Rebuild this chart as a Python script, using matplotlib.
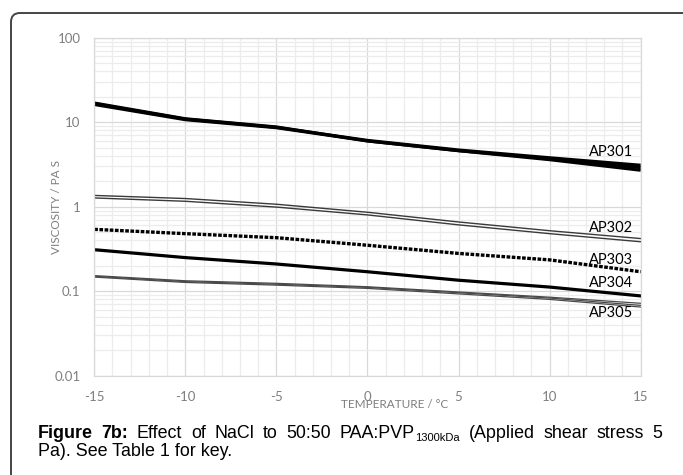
"""Figure 7b: viscosity vs temperature, NaCl series in 50:50 PAA:PVP."""
import numpy as np
import matplotlib
matplotlib.use('Agg')
import matplotlib.pyplot as plt
from matplotlib.patches import FancyBboxPatch
from matplotlib.transforms import IdentityTransform

plt.rcParams['font.family'] = ['Lato', 'DejaVu Sans']
plt.rcParams['axes.unicode_minus'] = False

# temperature points (degC)
temp = [-15, -10, -5, 0, 5, 10, 15]

# AP301: three replicates
ap301_a = [16.6, 10.9, 8.7, 6.1, 4.7, 3.8, 3.1]
ap301_b = [16.2, 10.7, 8.6, 6.0, 4.6, 3.7, 2.9]
ap301_c = [16.9, 11.0, 8.8, 6.0, 4.6, 3.6, 2.7]
# AP302: two replicates
ap302_a = [1.36, 1.25, 1.07, 0.86, 0.66, 0.52, 0.42]
ap302_b = [1.27, 1.16, 0.99, 0.80, 0.61, 0.48, 0.385]
# AP303
ap303 = [0.54, 0.48, 0.43, 0.35, 0.28, 0.235, 0.17]
# AP304
ap304 = [0.31, 0.25, 0.21, 0.17, 0.135, 0.112, 0.088]
# AP305: three replicates
ap305_a = [0.153, 0.133, 0.124, 0.113, 0.098, 0.085, 0.072]
ap305_b = [0.150, 0.130, 0.121, 0.111, 0.096, 0.083, 0.068]
ap305_c = [0.147, 0.127, 0.118, 0.108, 0.093, 0.080, 0.065]

series_names = ['AP301', 'AP302', 'AP303', 'AP304', 'AP305']
label_y = [4.4, 0.56, 0.234, 0.125, 0.0552]

xticks = [-15, -10, -5, 0, 5, 10, 15]
xticklabels = ['-15', '-10', '-5', '0', '5', '10', '15']
yticks = [0.01, 0.1, 1, 10, 100]
yticklabels = ['0.01', '0.1', '1', '10', '100']

fig = plt.figure(figsize=(6.83, 4.75), dpi=100)
ax = fig.add_axes([0.138, 0.209, 0.800, 0.7116])

# outer rounded frame (extends past right/bottom edges)
frame = FancyBboxPatch((11, -30), 720, 492, boxstyle='round,pad=0,rounding_size=9',
                       transform=IdentityTransform(), fill=False,
                       edgecolor='#444444', linewidth=1.4, zorder=0)
fig.patches.append(frame)

ax.set_yscale('log')
ax.set_xlim(-15, 15)
ax.set_ylim(0.01, 100)
ax.set_xticks(xticks)
ax.set_xticklabels(xticklabels)
ax.set_xticks(np.arange(-15, 16, 1), minor=True)
ax.set_yticks(yticks)
ax.set_yticklabels(yticklabels)
ax.set_yticks([m * d for d in [0.01, 0.1, 1, 10] for m in range(2, 10)], minor=True)
ax.yaxis.set_minor_formatter(plt.NullFormatter())
ax.tick_params(which='both', length=0, colors='#7f7f7f', labelsize=9.5)
ax.tick_params(axis='y', pad=10)
ax.tick_params(axis='x', pad=11)
ax.grid(True, which='major', color='#d9d9d9', linewidth=0.9)
ax.grid(True, which='minor', color='#ececec', linewidth=0.9)
ax.set_axisbelow(True)
for s in ax.spines.values():
    s.set_color('#d9d9d9')
    s.set_linewidth(0.9)

# curves
for ys in (ap301_a, ap301_b, ap301_c):
    ax.plot(temp, ys, color='black', linewidth=2.2, solid_capstyle='butt')
for ys in (ap302_a, ap302_b):
    ax.plot(temp, ys, color='#3a3a3a', linewidth=1.0)
ax.plot(temp, ap303, color='black', linewidth=2.4, linestyle=(0, (1.1, 0.45)))
ax.plot(temp, ap304, color='black', linewidth=2.3)
for ys in (ap305_a, ap305_b, ap305_c):
    ax.plot(temp, ys, color='#4a4a4a', linewidth=0.9)

for name, yv in zip(series_names, label_y):
    ax.text(14.6, yv, name, ha='right', va='center', fontsize=10.5, color='black')

ax.set_ylabel('VISCOSITY / PA S', fontsize=8.5, color='#7f7f7f')
ax.yaxis.set_label_coords(-0.059, 0.5)
ax.text(0.55, -0.084, 'TEMPERATURE / \u00b0C', transform=ax.transAxes,
        ha='center', va='center', fontsize=8.5, color='#7f7f7f')

# caption (pixel coordinates, origin bottom-left), first line justified
H = 475
cap_font = ['Liberation Sans', 'DejaVu Sans']
cap_size = 12.9
renderer = fig.canvas.get_renderer()
words = [('Figure', 'bold'), ('7b:', 'bold'), ('Effect', 'normal'), ('of', 'normal'),
         ('NaCl', 'normal'), ('to', 'normal'), ('50:50', 'normal'), ('PAA:PVP', 'sub'),
         ('(Applied', 'normal'), ('shear', 'normal'), ('stress', 'normal'), ('5', 'normal')]
x0, x1, base1 = 38, 662, H - 438
items = []
for w, kind in words:
    t = fig.text(0, base1, w, transform=IdentityTransform(), family=cap_font,
                 fontsize=cap_size, fontweight='bold' if kind == 'bold' else 'normal',
                 va='baseline', ha='left')
    width = t.get_window_extent(renderer).width
    sub = None
    width_sub = 0
    if kind == 'sub':
        sub = fig.text(0, base1 - 3, '1300kDa', transform=IdentityTransform(),
                       family=cap_font, fontsize=8, va='baseline', ha='left')
        width_sub = sub.get_window_extent(renderer).width + 1
    items.append((t, sub, width, width_sub))
total = sum(w + ws for _, _, w, ws in items)
gap = (x1 - x0 - total) / (len(items) - 1)
x = x0
for t, sub, w, ws in items:
    t.set_x(x)
    if sub is not None:
        sub.set_x(x + w + 1)
    x += w + ws + gap

fig.text(x0, H - 456, 'Pa). See Table 1 for key.', transform=IdentityTransform(),
         family=cap_font, fontsize=cap_size, va='baseline', ha='left')

fig.savefig('out.png', dpi=100)
plt.close(fig)
print('out.png saved')
